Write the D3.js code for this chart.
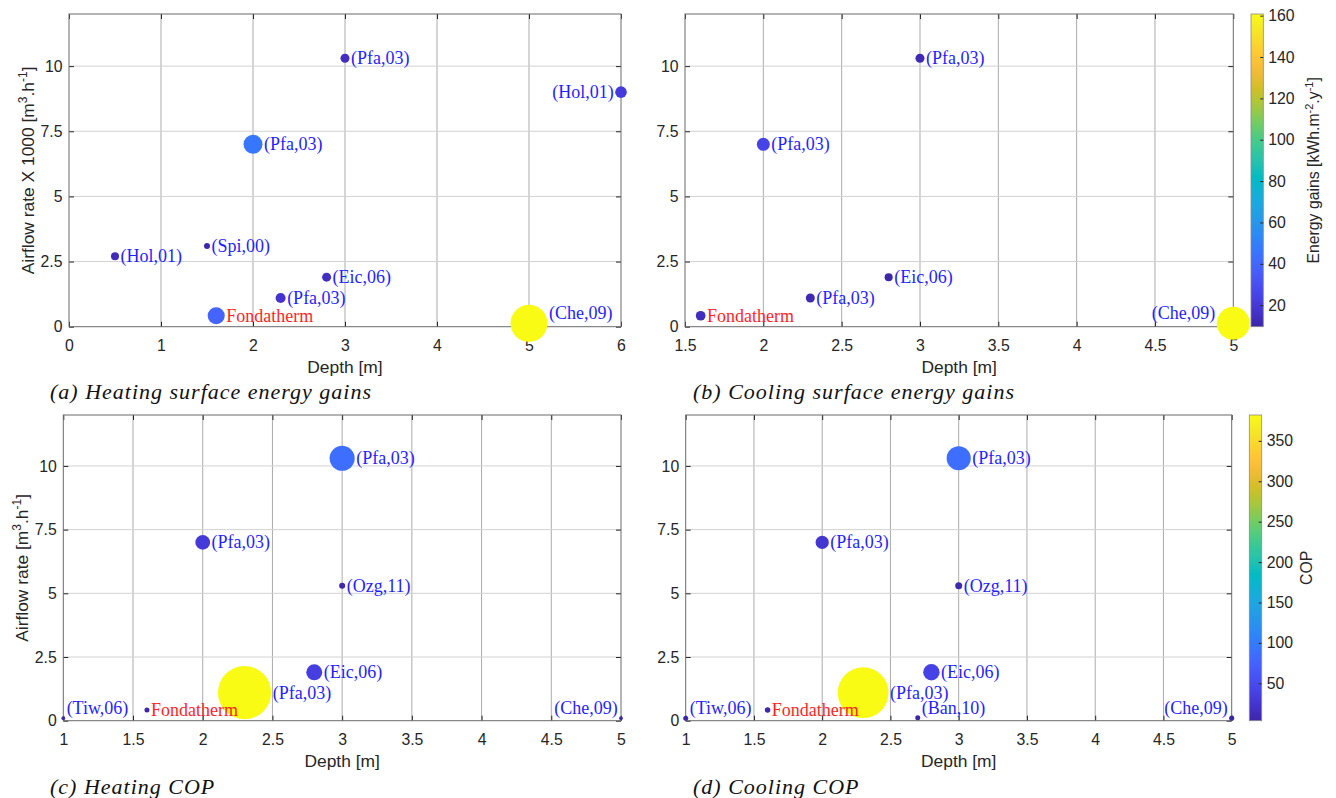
<!DOCTYPE html>
<html>
<head>
<meta charset="utf-8">
<script src="https://cdn.jsdelivr.net/npm/d3@7"></script>
<style>
  body { margin: 0; background: #fff; }
  svg { display: block; }
  .axis text { font-family: "Liberation Sans", Arial, sans-serif; font-size: 15.8px; fill: #262626; }
  .axis line { stroke: #262626; }
  .axis-title { font-family: "Liberation Sans", Arial, sans-serif; font-size: 17.4px; fill: #262626; }
  .cb-title { font-family: "Liberation Sans", Arial, sans-serif; font-size: 15.8px; fill: #262626; }
  .pt-label { font-family: "Liberation Serif", "Times New Roman", serif; font-size: 18px; }
  .caption { font-family: "Liberation Serif", "Times New Roman", serif; font-style: italic; font-size: 22px; fill: #111; letter-spacing: 1px; }
</style>
</head>
<body>
<svg id="fig" width="1336" height="798"></svg>
<script>
// ---- Shared ticks ----
const airflowTicks = [0, 2.5, 5, 7.5, 10];
const depthTicksA = [0, 1, 2, 3, 4, 5, 6];
const depthTicksB = [1.5, 2, 2.5, 3, 3.5, 4, 4.5, 5];
const depthTicksCD = [1, 1.5, 2, 2.5, 3, 3.5, 4, 4.5, 5];
const gainBarTicks = [20, 40, 60, 80, 100, 120, 140, 160];
const copBarTicks = [50, 100, 150, 200, 250, 300, 350];

// ---- (a) Heating surface energy gains ----
const depthA   = [3, 2, 6, 0.5, 1.5, 2.8, 2.3, 1.6, 5];
const airflowA = [10.3, 7, 9, 2.7, 3.1, 1.9, 1.1, 0.42, 0.13];
const gainA    = [12, 53, 20, 9.5, 5.3, 12, 15, 43, 202];
const labelsA  = ["(Pfa,03)", "(Pfa,03)", "(Hol,01)", "(Hol,01)", "(Spi,00)", "(Eic,06)", "(Pfa,03)", "Fondatherm", "(Che,09)"];

// ---- (b) Cooling surface energy gains ----
const depthB   = [3, 2, 2.8, 2.3, 1.6, 5];
const airflowB = [10.3, 7, 1.9, 1.1, 0.42, 0.13];
const gainB    = [12, 25, 9.6, 12, 14, 160.8];
const labelsB  = ["(Pfa,03)", "(Pfa,03)", "(Eic,06)", "(Pfa,03)", "Fondatherm", "(Che,09)"];

// ---- (c) Heating COP ----
const depthC   = [3, 2, 3, 2.8, 2.3, 1.6, 1, 5];
const airflowC = [10.3, 7, 5.3, 1.9, 1.1, 0.42, 0.1, 0.1];
const copC     = [93, 32, 5.4, 38, 419, 3.7, 2, 2];
const labelsC  = ["(Pfa,03)", "(Pfa,03)", "(Ozg,11)", "(Eic,06)", "(Pfa,03)", "Fondatherm", "(Tiw,06)", "(Che,09)"];

// ---- (d) Cooling COP ----
const depthD   = [3, 2, 3, 2.8, 2.3, 1.6, 1, 2.7, 5];
const airflowD = [10.3, 7, 5.3, 1.9, 1.1, 0.42, 0.1, 0.12, 0.1];
const copD     = [86, 26, 7.3, 40, 382, 4.5, 3.7, 3.7, 3.8];
const labelsD  = ["(Pfa,03)", "(Pfa,03)", "(Ozg,11)", "(Eic,06)", "(Pfa,03)", "Fondatherm", "(Tiw,06)", "(Ban,10)", "(Che,09)"];

// Parula colormap (sampled)
const parulaStops = [
  [0.2422,0.1504,0.6603],[0.2647,0.1978,0.7952],[0.2783,0.2559,0.8991],[0.2810,0.3228,0.9579],
  [0.2699,0.3892,0.9906],[0.2206,0.4603,0.9973],[0.1786,0.5289,0.9682],[0.1540,0.5902,0.9218],
  [0.1248,0.6459,0.8883],[0.0689,0.6948,0.8394],[0.0067,0.7312,0.7660],[0.1408,0.7584,0.6842],
  [0.2161,0.7843,0.5923],[0.3406,0.8008,0.4789],[0.5044,0.7993,0.3480],[0.6720,0.7793,0.2227],
  [0.8203,0.7498,0.1535],[0.9393,0.7288,0.2100],[0.9970,0.7659,0.2199],[0.9786,0.8386,0.1766],
  [0.9597,0.9135,0.1423],[0.9769,0.9839,0.0805]
];
const parula = d3.piecewise(d3.interpolateRgb, parulaStops.map(c => d3.rgb(c[0]*255, c[1]*255, c[2]*255)));

const svg = d3.select("#fig");

// Marker area proportional to the value (same scale in every panel)
const size = d3.scaleSqrt().domain([0, 400]).range([0, 26]);
const fmt = d3.format("~g");

function panel(p) {
  const g = svg.append("g");
  const x = d3.scaleLinear().domain(p.xDomain).range([p.l, p.r]);
  const y = d3.scaleLinear().domain([0, 12]).range([p.b, p.t]);
  const color = d3.scaleSequential(parula).domain(d3.extent(p.values));

  // grid
  g.append("g").selectAll("line").data(p.xTicks.slice(1, -1)).join("line")
    .attr("x1", d => x(d)).attr("x2", d => x(d)).attr("y1", p.t).attr("y2", p.b)
    .attr("stroke", "#ababab").attr("stroke-width", 1);
  g.append("g").selectAll("line").data(airflowTicks.slice(1)).join("line")
    .attr("x1", p.l).attr("x2", p.r).attr("y1", d => y(d)).attr("y2", d => y(d))
    .attr("stroke", "#d2d2d2").attr("stroke-width", 1);

  // axes (ticks drawn inward)
  const ax = (axis, tr, labels) => {
    const a = g.append("g").attr("class", "axis").attr("transform", tr).call(axis);
    a.select(".domain").remove();
    if (!labels) a.selectAll("text").remove();
    return a;
  };
  ax(d3.axisBottom(x).tickValues(p.xTicks).tickFormat(fmt).tickSize(-5).tickPadding(12.7), `translate(0,${p.b})`, true);
  ax(d3.axisTop(x).tickValues(p.xTicks).tickSize(-5), `translate(0,${p.t})`, false);
  ax(d3.axisLeft(y).tickValues(airflowTicks).tickFormat(fmt).tickSize(-5).tickPadding(6.5), `translate(${p.l},0)`, true);
  ax(d3.axisRight(y).tickValues(airflowTicks).tickSize(-5), `translate(${p.r},0)`, false);

  // box
  g.append("rect").attr("x", p.l).attr("y", p.t).attr("width", p.r - p.l).attr("height", p.b - p.t)
    .attr("fill", "none").attr("stroke", "#6a6a6a").attr("stroke-width", 1);

  // bubbles
  const pts = p.depth.map((d, i) => ({ depth: d, airflow: p.airflow[i], v: p.values[i], label: p.labels[i] }));
  g.append("g").selectAll("circle").data(pts).join("circle")
    .attr("cx", d => x(d.depth)).attr("cy", d => y(d.airflow))
    .attr("r", d => size(d.v)).attr("fill", d => color(d.v));

  // point labels: right of the marker, or left of it at the right edge;
  // lifted a little when the point sits on the x axis
  g.append("g").selectAll("text").data(pts).join("text")
    .attr("class", "pt-label")
    .each(function (d) {
      const atRight = d.depth === p.xDomain[1];
      const r = size(d.v);
      d3.select(this)
        .attr("x", atRight ? x(d.depth) - r - 1.5 : x(d.depth) + r + 1.5)
        .attr("y", y(d.airflow) + (d.airflow < 0.2 ? -10 : 0))
        .attr("dy", "0.33em")
        .attr("text-anchor", atRight ? "end" : "start")
        .attr("fill", d.label === "Fondatherm" ? "#ff1f1f" : "#1f1fff")
        .text(d.label);
    });

  // x title
  g.append("text").attr("class", "axis-title").attr("x", (p.l + p.r) / 2).attr("y", p.b + 46.5)
    .attr("text-anchor", "middle").text("Depth [m]");

  // y title with superscripts
  if (p.yTitle) {
    const t = g.append("text").attr("class", "axis-title")
      .attr("transform", `translate(${p.yTitleX},${(p.t + p.b) / 2}) rotate(-90)`)
      .attr("text-anchor", "middle");
    t.append("tspan").text(p.yTitle + " [m");
    t.append("tspan").attr("dy", -7).attr("font-size", 12).text("3");
    t.append("tspan").attr("dy", 7).text(".h");
    t.append("tspan").attr("dy", -7).attr("font-size", 12).text("-1");
    t.append("tspan").attr("dy", 7).text("]");
  }

  // caption
  svg.append("text").attr("class", "caption").attr("x", p.capX).attr("y", p.capY).text(p.caption);

  // colorbar
  if (p.bar) {
    const b = p.bar;
    const cy = d3.scaleLinear().domain(d3.extent(p.values)).range([b.b, b.t]);
    const id = "grad" + p.id;
    const grad = svg.append("defs").append("linearGradient").attr("id", id)
      .attr("x1", 0).attr("y1", 1).attr("x2", 0).attr("y2", 0);
    d3.range(0, 1.0001, 0.02).forEach(t => grad.append("stop").attr("offset", t).attr("stop-color", parula(t)));
    g.append("rect").attr("x", b.l).attr("y", b.t).attr("width", b.r - b.l).attr("height", b.b - b.t)
      .attr("fill", `url(#${id})`).attr("stroke", "#8a8a8a").attr("stroke-width", 0.8);
    const a = g.append("g").attr("class", "axis").attr("transform", `translate(${b.r},0)`)
      .call(d3.axisRight(cy).tickValues(b.ticks).tickFormat(fmt).tickSize(-3).tickPadding(5));
    a.select(".domain").remove();
    const tt = g.append("text").attr("class", "cb-title")
      .attr("transform", `translate(${b.titleX},${(b.t + b.b) / 2}) rotate(-90)`)
      .attr("text-anchor", "middle");
    b.title.forEach(s => {
      const ts = tt.append("tspan").text(s.t);
      if (s.sup) ts.attr("dy", -6).attr("font-size", 11);
      else if (s.down) ts.attr("dy", 6);
    });
  }
}

panel({ id: "a", l: 69, r: 621, t: 14, b: 326.7, xDomain: [0, 6], xTicks: depthTicksA,
  depth: depthA, airflow: airflowA, values: gainA, labels: labelsA,
  yTitle: "Airflow rate X 1000", yTitleX: 34,
  caption: "(a) Heating surface energy gains", capX: 50, capY: 399 });

panel({ id: "b", l: 685, r: 1233.3, t: 14, b: 326.7, xDomain: [1.5, 5], xTicks: depthTicksB,
  depth: depthB, airflow: airflowB, values: gainB, labels: labelsB,
  caption: "(b) Cooling surface energy gains", capX: 693, capY: 399,
  bar: { l: 1251, r: 1263.3, t: 14, b: 326.7, ticks: gainBarTicks, titleX: 1319,
    title: [{ t: "Energy gains [kWh.m" }, { t: "-2", sup: true }, { t: ".y", down: true }, { t: "-1", sup: true }, { t: "]", down: true }] } });

panel({ id: "c", l: 63.3, r: 621, t: 415, b: 720.7, xDomain: [1, 5], xTicks: depthTicksCD,
  depth: depthC, airflow: airflowC, values: copC, labels: labelsC,
  yTitle: "Airflow rate", yTitleX: 28,
  caption: "(c) Heating COP", capX: 50, capY: 794 });

panel({ id: "d", l: 685.7, r: 1231.7, t: 415, b: 720.7, xDomain: [1, 5], xTicks: depthTicksCD,
  depth: depthD, airflow: airflowD, values: copD, labels: labelsD,
  caption: "(d) Cooling COP", capX: 693, capY: 794,
  bar: { l: 1249.3, r: 1261.7, t: 415, b: 720.7, ticks: copBarTicks, titleX: 1312,
    title: [{ t: "COP" }] } });
</script>
</body>
</html>
